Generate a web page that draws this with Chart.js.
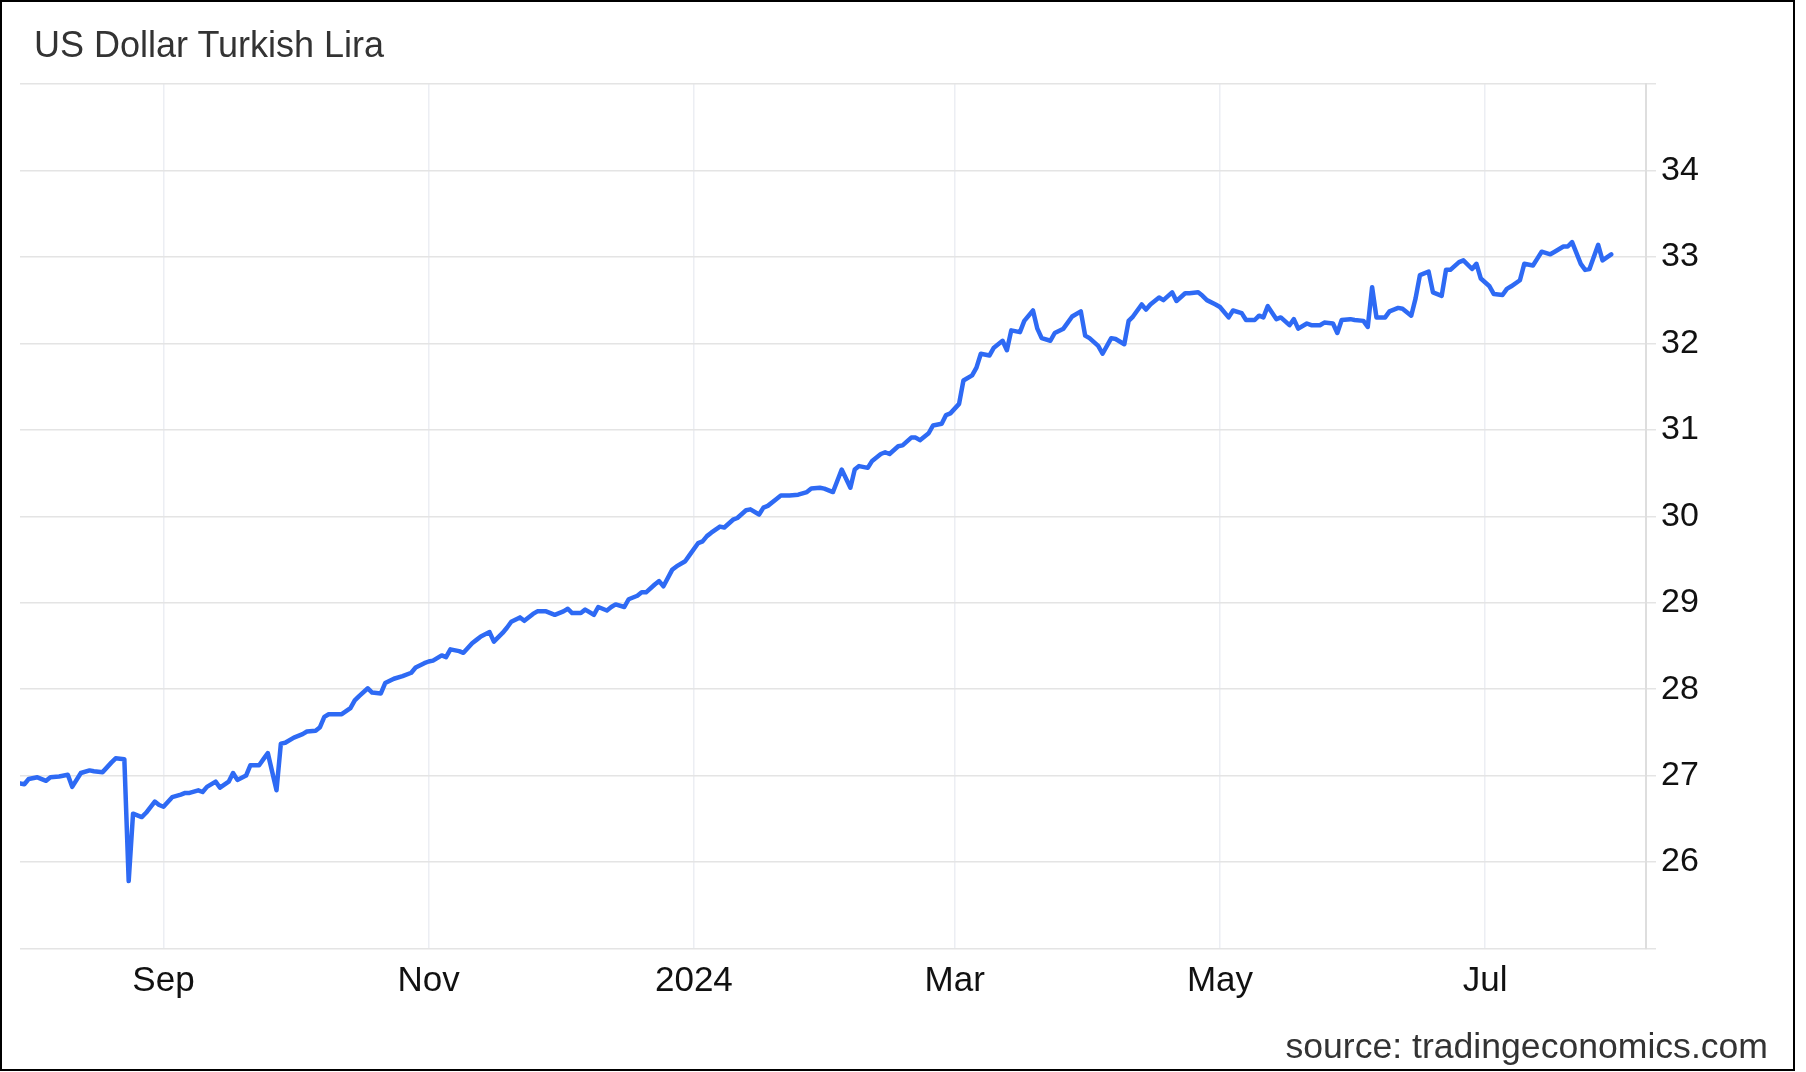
<!DOCTYPE html>
<html>
<head>
<meta charset="utf-8">
<title>US Dollar Turkish Lira</title>
<script src="https://cdn.jsdelivr.net/npm/chart.js@4.4.1/dist/chart.umd.min.js"></script>
<style>
  html, body { margin: 0; padding: 0; background: #fff; width: 1806px; height: 1072px; overflow: hidden; }
  #frame { position: absolute; left: 0; top: 0; width: 1795px; height: 1071px; box-sizing: border-box; border: 2px solid #000; }
  #title { position: absolute; left: 34px; top: 27px; font: 36px/36px "Liberation Sans", Arial, sans-serif; color: #333; white-space: nowrap; }
  #source { position: absolute; right: 38px; top: 1029px; font: 35.6px/35.6px "Liberation Sans", Arial, sans-serif; color: #333; white-space: nowrap; }
  #wrap { position: absolute; left: 0; top: 0; width: 1806px; height: 1072px; }
</style>
</head>
<body>
<div id="frame"></div>
<div id="wrap"><canvas id="c"></canvas></div>
<div id="title">US Dollar Turkish Lira</div>
<div id="source">source: tradingeconomics.com</div>
<script>
// Days counted from 2023-07-30
const startDate = '2023-07-30';
const days = [
  0,1,2,4,6,7,9,11,12,14,16,17,19,21,22,24,25,26,28,29,31,32,33,35,37,38,39,41,42,43,45,46,48,49,50,52,53,55,56,57,59,60,61,63,65,66,68,69,70,71,73,74,76,77,78,80,81,83,84,86,
  88,90,91,93,94,95,97,98,99,101,102,104,105,106,108,109,111,112,113,115,116,118,119,121,122,123,125,126,127,129,130,132,133,135,136,137,139,140,142,143,144,146,147,148,150,151,153,154,156,157,158,
  159,161,162,164,165,167,168,170,171,172,174,175,177,179,181,182,184,185,187,188,189,191,192,193,195,196,198,199,200,202,203,205,206,207,209,210,212,213,214,216,217,219,220,221,223,224,226,227,228,230,
  231,233,234,235,237,238,240,241,242,244,245,246,248,249,251,252,254,255,256,258,259,260,262,263,265,266,268,269,271,272,273,275,276,278,279,281,282,284,285,286,287,289,290,292,293,294,296,297,299,300,302,303,304,306,307,309,310,311,312,
  314,315,317,318,320,321,322,324,325,327,328,329,331,332,334,335,336,338,339,341,342,343,345,346,348,349,350,352,353,355,356,357,359,360,361,363,364,366
];
const usdtry = [
  26.91,26.90,26.96,26.98,26.94,26.98,26.99,27.01,26.87,27.03,27.06,27.05,27.04,27.15,27.20,27.19,25.78,26.56,26.52,26.57,26.70,26.66,26.64,26.75,26.78,26.80,26.80,26.83,26.81,26.87,26.93,26.86,26.93,27.03,26.95,27.00,27.12,27.12,27.19,27.26,26.83,27.37,27.38,27.44,27.48,27.51,27.52,27.56,27.68,27.71,27.71,27.71,27.78,27.87,27.92,28.01,27.96,27.95,28.07,28.12,
  28.15,28.19,28.25,28.30,28.32,28.33,28.39,28.37,28.46,28.44,28.42,28.53,28.57,28.61,28.66,28.55,28.65,28.71,28.78,28.83,28.79,28.87,28.90,28.90,28.88,28.86,28.90,28.93,28.88,28.88,28.92,28.86,28.95,28.91,28.95,28.98,28.95,29.04,29.08,29.12,29.12,29.21,29.25,29.19,29.38,29.42,29.48,29.55,29.69,29.71,29.77,
  29.81,29.88,29.87,29.96,29.98,30.07,30.08,30.02,30.10,30.12,30.20,30.24,30.24,30.25,30.28,30.32,30.33,30.32,30.28,30.41,30.54,30.33,30.54,30.58,30.56,30.64,30.72,30.74,30.72,30.81,30.82,30.91,30.91,30.88,30.96,31.05,31.07,31.17,31.19,31.30,31.57,31.63,31.72,31.88,31.86,31.95,32.03,31.92,32.15,32.13,
  32.26,32.38,32.17,32.06,32.03,32.12,32.17,32.24,32.31,32.37,32.09,32.06,31.97,31.88,32.06,32.05,31.99,32.26,32.31,32.45,32.39,32.45,32.53,32.50,32.59,32.49,32.58,32.58,32.59,32.55,32.50,32.45,32.42,32.30,32.38,32.35,32.27,32.27,32.32,32.30,32.43,32.28,32.30,32.21,32.28,32.17,32.23,32.21,32.21,32.24,32.23,32.12,32.27,32.28,32.27,32.26,32.19,32.65,32.30,
  32.30,32.37,32.41,32.40,32.32,32.52,32.79,32.83,32.59,32.55,32.85,32.85,32.94,32.96,32.86,32.92,32.75,32.66,32.57,32.56,32.63,32.66,32.73,32.92,32.90,32.98,33.06,33.03,33.06,33.12,33.12,33.17,32.92,32.85,32.86,33.14,32.96,33.03
];
// Month ticks (days from start date): 2023-09-01, 2023-11-01, 2024-01-01, 2024-03-01, 2024-05-01, 2024-07-01
const monthTickDays = [33, 94, 155, 215, 276, 337];
const monthLabels = ['Sep', 'Nov', '2024', 'Mar', 'May', 'Jul'];
const yTickValues = [26, 27, 28, 29, 30, 31, 32, 33, 34];
const yMin = 25, yMax = 35;
const xMin = 0, xMax = 374;

Chart.defaults.font.family = '"Liberation Sans", Arial, sans-serif';

const points = days.map((d, i) => ({ x: d, y: usdtry[i] }));

new Chart(document.getElementById('c'), {
  type: 'line',
  data: {
    datasets: [{
      label: 'USDTRY',
      data: points,
      borderColor: '#2e6af4',
      borderWidth: 4.5,
      pointRadius: 0,
      pointHoverRadius: 0,
      tension: 0,
      fill: false,
      borderJoinStyle: 'round',
      borderCapStyle: 'round'
    }]
  },
  options: {
    responsive: true,
    maintainAspectRatio: false,
    animation: false,
    devicePixelRatio: 1,
    layout: { padding: { left: 20, top: 84, right: 0, bottom: 0 } },
    plugins: { legend: { display: false }, tooltip: { enabled: false }, title: { display: false } },
    scales: {
      x: {
        type: 'linear',
        min: xMin,
        max: xMax,
        afterBuildTicks: (scale) => { scale.ticks = monthTickDays.map(v => ({ value: v })); },
        afterFit: (scale) => { scale.height = 123.5; },
        ticks: {
          autoSkip: false,
          maxRotation: 0,
          padding: 12,
          color: '#111',
          font: { size: 35 },
          callback: (value, index) => monthLabels[index]
        },
        grid: { color: '#eceef3', lineWidth: 1.5, drawTicks: false },
        border: { display: false }
      },
      y: {
        type: 'linear',
        position: 'right',
        min: yMin,
        max: yMax,
        afterFit: (scale) => { scale.width = 160; },
        ticks: {
          stepSize: 1,
          padding: 5,
          color: '#111',
          font: { size: 34 },
          callback: (value) => yTickValues.includes(value) ? String(value) : ''
        },
        grid: { color: '#e4e4e4', lineWidth: 1.5, drawTicks: true, tickLength: 10, tickColor: '#e4e4e4' },
        border: { display: true, color: '#dedede', width: 2 }
      }
    }
  }
});
</script>
</body>
</html>
